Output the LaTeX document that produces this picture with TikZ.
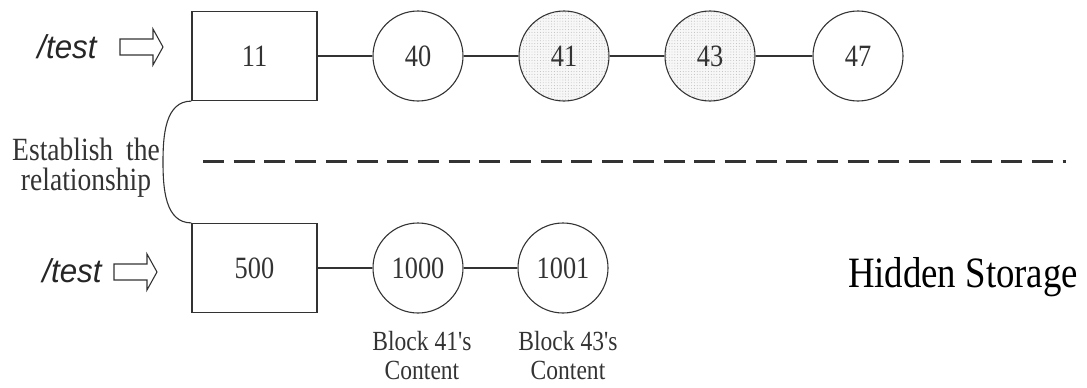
\documentclass[tikz,border=0pt]{standalone}
\usepackage{fontspec}
\setmainfont{Liberation Serif}
\newfontfamily\narrowserif[FakeStretch=0.85]{Liberation Serif}
\newfontfamily\pathfont[FakeStretch=0.95]{Liberation Sans}
\usetikzlibrary{patterns.meta}
\definecolor{ink}{HTML}{333333}

% hollow block arrow: left end of the shaft at (#1,#2), 43 long
\newcommand\hollowarrow[2]{%
  \draw[ink, line width=1.1pt, line join=miter]
    (#1,#2) ++(0,-8) -- ++(33,0) -- ++(0,-10) -- ++(10,18)
    -- ++(-10,18) -- ++(0,-10) -- ++(-33,0) -- cycle;}

\begin{document}
\begin{tikzpicture}[x=1pt, y=-1pt,
  every node/.style={inner sep=0pt, text=ink},
  blockbox/.style={draw=ink, line width=1.2pt, minimum width=125pt, minimum height=89pt,
    font=\narrowserif\fontsize{31}{36}\selectfont},
  blocknode/.style={circle, draw=ink, line width=1.1pt, minimum size=90pt,
    font=\narrowserif\fontsize{31}{36}\selectfont},
  usednode/.style={blocknode, fill=black!3,
    postaction={pattern={Dots[distance=2.8pt, radius=0.45pt]}, pattern color=black!30}},
  link/.style={draw=ink, line width=1.2pt},
  pathlabel/.style={font=\pathfont\itshape\fontsize{33}{38}\selectfont, anchor=base, text=black!85},
  caption/.style={font=\narrowserif\fontsize{27.7}{29}\selectfont, align=center, anchor=north},
  divider/.style={draw=ink, line width=3pt, dash pattern=on 21pt off 9.7pt}]

\useasboundingbox (0,0) rectangle (1087,388);

% visible directory chain
\node[pathlabel] (pathA) at (67,58) {/test};
\hollowarrow{120}{47}
\node[blockbox] (b11) at (254.5,56) {11};
\node[blocknode] (c40) at (418,56) {40};
\node[usednode]  (c41) at (564,56) {41};
\node[usednode]  (c43) at (710,56) {43};
\node[blocknode] (c47) at (858,56) {47};
\draw[link] (b11) -- (c40);
\draw[link] (c40) -- (c41);
\draw[link] (c41) -- (c43);
\draw[link] (c43) -- (c47);

% separator
\coordinate (dashL) at (203,161.7);
\coordinate (dashR) at (1066,161.7);
\draw[divider] (dashL) -- (dashR);

% hidden chain
\node[pathlabel] (pathB) at (72,282) {/test};
\hollowarrow{114}{272}
\node[blockbox] (b500) at (254.5,268) {500};
\node[blocknode] (c1000) at (418,268) {1000};
\node[blocknode] (c1001) at (563,268) {1001};
\draw[link] (b500) -- (c1000);
\draw[link] (c1000) -- (c1001);

\node[caption] (cap1000) at (422,331) {Block 41's\\Content};
\node[caption] (cap1001) at (568,331) {Block 43's\\Content};

\node[font=\narrowserif\fontsize{43.3}{48}\selectfont, anchor=base, text=black] (hidden) at (963,287) {Hidden Storage};

% relation between the two chains
\coordinate (bend) at (163,162);
\draw[ink, line width=1.1pt] (b11.south west) to[out=180, in=90] (bend)
  to[out=-90, in=180] (b500.north west);
\node[font=\narrowserif\fontsize{32.4}{30}\selectfont, align=center, anchor=north] (rel)
  at (86,137.6) {Establish\hspace{6pt} the\\relationship};

\end{tikzpicture}
\end{document}
